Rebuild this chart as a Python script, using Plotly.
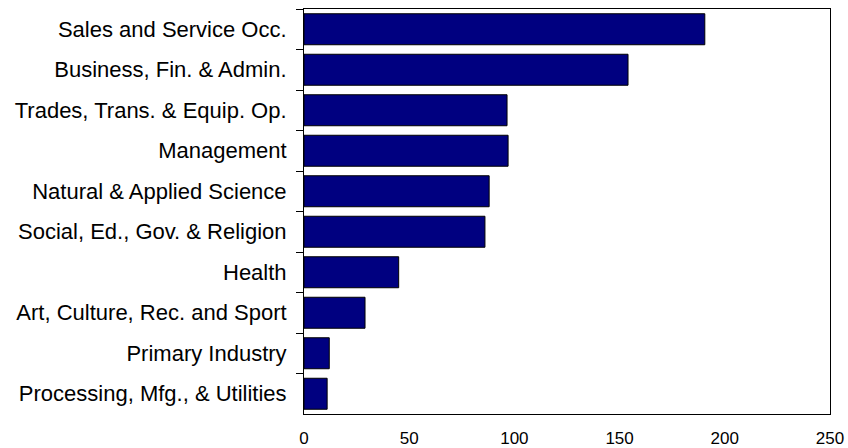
import plotly.graph_objects as go

categories = [
    "Sales and Service Occ.",
    "Business, Fin. & Admin.",
    "Trades, Trans. & Equip. Op.",
    "Management",
    "Natural & Applied Science",
    "Social, Ed., Gov. & Religion",
    "Health",
    "Art, Culture, Rec. and Sport",
    "Primary Industry",
    "Processing, Mfg., & Utilities",
]
values = [190.5, 154, 96.5, 97, 88, 86, 45, 29, 12, 11]
x_ticks = [0, 50, 100, 150, 200, 250]

fig = go.Figure(
    go.Bar(
        y=categories,
        x=values,
        orientation="h",
        marker=dict(color="#000080", line=dict(color="black", width=1)),
    )
)

fig.update_layout(
    width=848,
    height=448,
    margin=dict(l=303.5, r=18, t=9, b=34),
    paper_bgcolor="white",
    plot_bgcolor="white",
    bargap=0.235,
    showlegend=False,
    font=dict(family="Liberation Sans, Arial, sans-serif", color="black"),
)

fig.update_xaxes(
    range=[0, 250],
    tickvals=x_ticks,
    ticks="",
    showgrid=False,
    zeroline=False,
    showline=True,
    linecolor="black",
    linewidth=1,
    mirror=True,
    tickfont=dict(size=17),
    ticklabelstandoff=9,
    automargin=False,
)

fig.update_yaxes(
    autorange="reversed",
    ticks="outside",
    tickson="boundaries",
    ticklen=7,
    tickcolor="black",
    showgrid=False,
    showline=True,
    linecolor="black",
    linewidth=1,
    mirror=True,
    tickfont=dict(size=22),
    ticklabelstandoff=12,
    automargin=False,
)

fig.write_html(
    "out.html",
    config={"displayModeBar": False},
    post_script="document.body.style.margin='0';document.body.style.overflow='hidden';",
)
